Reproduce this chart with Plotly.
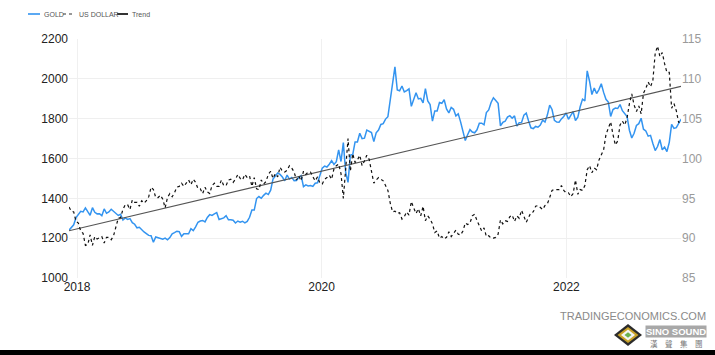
import pandas as pd
import plotly.graph_objects as go

# Weekly closes, Dec 2017 .. Dec 2022
gold = [
    1240, 1255, 1267, 1303,                       # 2017-12
    1320, 1335, 1332, 1352,                       # 2018-01
    1333, 1315, 1353, 1330,
    1322, 1323, 1313, 1347, 1325,
    1332, 1345, 1336, 1323,
    1314, 1320, 1291, 1302,
    1294, 1298, 1278, 1270, 1252,
    1255, 1241, 1231, 1223,
    1214, 1212, 1180, 1206, 1201,
    1198, 1195, 1200, 1192,
    1203, 1222, 1228, 1235,
    1233, 1209, 1222, 1223, 1222,
    1248, 1238, 1257, 1280,
    1286, 1289, 1282, 1304,                       # 2019-01
    1318, 1314, 1322, 1328,
    1294, 1299, 1302, 1313, 1292,
    1292, 1290, 1276, 1286,
    1280, 1285, 1277, 1284, 1305,
    1341, 1341, 1399, 1409,
    1400, 1415, 1426, 1419,
    1441, 1497, 1513, 1527, 1520,
    1507, 1488, 1517, 1497,
    1505, 1489, 1490, 1505,
    1514, 1459, 1468, 1462, 1464,
    1460, 1476, 1478, 1511,
    1552, 1562, 1557, 1571, 1589,                 # 2020-01
    1570, 1584, 1643, 1585,
    1680, 1530, 1480, 1617,
    1620, 1683, 1683, 1727,
    1700, 1702, 1743, 1735, 1730,
    1685, 1729, 1743, 1771,
    1775, 1798, 1810, 1902, 1975,
    2060, 1944, 1940, 1964,
    1934, 1941, 1950, 1862,
    1900, 1930, 1899, 1902, 1879,
    1951, 1889, 1871, 1788,
    1839, 1839, 1881, 1877,
    1895, 1849, 1829, 1856, 1847,                 # 2021-01
    1814, 1824, 1784, 1734,
    1690, 1719, 1745, 1733,
    1729, 1744, 1777, 1777, 1769,
    1831, 1844, 1881, 1905,
    1891, 1877, 1764, 1781,
    1787, 1808, 1815, 1802, 1814,
    1763, 1780, 1781, 1818,
    1828, 1788, 1754, 1750,
    1761, 1757, 1768, 1792, 1783,
    1818, 1868, 1846, 1792,
    1783, 1782, 1799, 1811, 1829,
    1797, 1817, 1835, 1791,                       # 2022-01
    1807, 1860, 1898, 1889,
    2040, 1988, 1921, 1954,
    1926, 1946, 1975, 1932, 1897,
    1883, 1811, 1846, 1853,
    1851, 1871, 1840, 1827,
    1811, 1742, 1703, 1727, 1766,
    1775, 1802, 1747, 1738,
    1712, 1716, 1675, 1640, 1660,
    1695, 1644, 1657, 1635,
    1681, 1771, 1751, 1755,
    1780, 1797,
]

usd = [
    93.9, 93.4, 93.3, 92.1,                       # 2017-12
    91.9, 90.9, 90.6, 89.1,                       # 2018-01
    89.2, 90.4, 89.1, 90.2,
    89.9, 90.1, 90.2, 89.4, 90.1,
    90.1, 89.8, 90.3, 91.6,
    92.5, 92.6, 93.6, 94.2,
    94.2, 93.6, 94.8, 94.5, 94.5,
    94.0, 94.7, 94.4, 94.7,
    95.2, 96.4, 96.1, 95.1, 95.1,
    95.4, 94.9, 93.8, 95.1,
    95.6, 95.2, 95.7, 96.4,
    96.5, 96.9, 96.5, 96.9, 97.3,
    96.7, 97.4, 97.0, 96.2,
    96.2, 95.6, 96.4, 95.8,                       # 2019-01
    95.6, 96.6, 96.9, 96.5,
    96.5, 97.3, 96.6, 96.6, 97.3,
    97.4, 97.0, 97.4, 98.0,
    97.5, 97.3, 98.0, 97.6, 97.8,
    96.5, 97.6, 96.2, 96.1,
    97.3, 96.8, 97.1, 98.0,
    98.4, 97.5, 98.1, 97.7, 98.9,
    98.4, 98.3, 98.5, 99.1,
    98.8, 98.3, 97.3, 97.8,
    97.2, 98.4, 98.0, 98.3, 98.3,
    97.7, 97.2, 97.7, 96.9,
    96.8, 97.4, 97.6, 97.9, 97.4,                 # 2020-01
    98.7, 99.1, 99.3, 98.1,
    95.0, 98.7, 102.5, 98.4,
    100.6, 99.5, 99.8, 100.4,
    99.1, 99.7, 100.4, 99.9, 98.3,
    96.9, 97.3, 97.6, 97.4,
    97.2, 96.6, 96.0, 94.4, 93.3,
    93.4, 93.1, 93.2, 92.4,
    92.7, 93.3, 92.9, 94.6,
    93.8, 93.1, 93.7, 92.8, 94.0,
    92.2, 92.8, 92.4, 91.8,
    90.7, 90.9, 90.0, 90.2,
    89.9, 90.1, 90.8, 90.2, 90.6,                 # 2021-01
    91.0, 90.5, 90.4, 90.9,
    91.9, 91.7, 91.9, 92.8,
    93.0, 92.2, 91.6, 90.9, 91.3,
    90.2, 90.3, 90.0, 90.0,
    90.1, 90.5, 92.3, 91.8,
    92.2, 92.1, 92.7, 92.9, 92.1,
    92.8, 92.5, 93.5, 92.7,
    92.0, 92.6, 93.2, 93.3,
    94.0, 94.1, 93.9, 93.6, 94.1,
    94.3, 95.1, 96.0, 96.1,
    96.1, 96.1, 96.6, 96.0, 95.7,
    95.7, 95.2, 95.6, 97.3,                       # 2022-01
    95.5, 96.1, 96.0, 96.6,
    98.6, 99.1, 98.2, 98.8,
    98.6, 99.8, 100.5, 101.1, 103.0,
    103.7, 104.6, 103.0, 101.7,
    102.2, 104.2, 104.7, 104.2,
    105.1, 106.9, 108.1, 106.7, 105.9,
    106.6, 105.6, 108.2, 108.8,
    109.6, 109.0, 109.8, 113.2, 114.1,
    112.8, 113.3, 111.9, 110.8,
    110.8, 106.3, 106.9, 106.0,
    104.5, 104.9,
]

trend = [1237, 1962]

dates = pd.date_range("2017-12-08", periods=len(gold), freq="W-FRI")
assert len(gold) == len(usd), (len(gold), len(usd))
trend_dates = [dates[0], dates[-1]]

W, H = 715, 355
L, R, T, B = 69, 34, 39, 77
PW, PH = W - L - R, H - T - B


def px(x):
    return (x - L) / PW


def py(y):
    return (H - B - y) / PH


fig = go.Figure()
fig.add_trace(go.Scatter(x=dates, y=gold, name="GOLD", mode="lines",
                         line=dict(color="#3394f0", width=1.5), yaxis="y"))
fig.add_trace(go.Scatter(x=trend_dates, y=trend, name="Trend", mode="lines",
                         line=dict(color="#555555", width=1.1), yaxis="y"))
fig.add_trace(go.Scatter(x=dates, y=usd, name="US DOLLAR", mode="lines",
                         line=dict(color="#111111", width=1.2, dash="dot"), yaxis="y2"))

font = "Liberation Sans, Arial, sans-serif"
fig.update_layout(
    width=W, height=H,
    margin=dict(l=L, r=R, t=T, b=B),
    paper_bgcolor="white", plot_bgcolor="white",
    showlegend=False,
    font=dict(family=font, size=12, color="#222"),
    xaxis=dict(range=[dates[0], dates[-1]], tick0="2018-01-01", dtick="M24",
               tickformat="%Y", showgrid=True, gridcolor="#f0f0f0", gridwidth=1,
               zeroline=False, showline=False, ticks="",
               tickfont=dict(size=12, color="#222")),
    yaxis=dict(range=[1000, 2200], dtick=200, showgrid=True, gridcolor="#efefef",
               zeroline=False, showline=False, ticks="",
               tickfont=dict(size=12, color="#222")),
    yaxis2=dict(range=[85, 115], dtick=5, overlaying="y", side="right",
                showgrid=False, zeroline=False, showline=False, ticks="",
                tickfont=dict(size=12, color="#9a9a9a")),
)

# Custom compact legend
leg_y = py(14)
items = [(28, 40, "#3394f0", "solid", 1.6, 42, "GOLD"),
         (63, 75, "#333333", "dot", 1.2, 77, "US DOLLAR"),
         (117, 128, "#333333", "solid", 2.0, 130, "Trend")]
for x0, x1, col, dash, wd, tx, label in items:
    fig.add_shape(type="line", xref="paper", yref="paper",
                  x0=px(x0), x1=px(x1), y0=leg_y, y1=leg_y,
                  line=dict(color=col, width=wd, dash=dash))
    fig.add_annotation(xref="paper", yref="paper", x=px(tx), y=leg_y,
                       text=label, showarrow=False, xanchor="left", yanchor="middle",
                       font=dict(size=7, color="#555", family=font))

# Watermark
fig.add_annotation(xref="paper", yref="paper", x=px(558), y=py(316),
                   text="TRADINGECONOMICS.COM", showarrow=False,
                   xanchor="left", yanchor="middle",
                   font=dict(size=11, color="#8a8a8a", family=font))

# Logo (diamond)
cx, cy = 628, 335
def diamond(rx, ry):
    return (f"M {px(cx)} {py(cy - ry)} L {px(cx + rx)} {py(cy)} "
            f"L {px(cx)} {py(cy + ry)} L {px(cx - rx)} {py(cy)} Z")
fig.add_shape(type="path", xref="paper", yref="paper", path=diamond(14, 11),
              fillcolor="#2b2b2b", line=dict(width=0))
fig.add_shape(type="path", xref="paper", yref="paper", path=diamond(10.5, 8),
              fillcolor="#c9a227", line=dict(width=0))
fig.add_shape(type="path", xref="paper", yref="paper", path=diamond(7, 5.5),
              fillcolor="#f4f4f4", line=dict(width=0))
fig.add_shape(type="path", xref="paper", yref="paper", path=diamond(3.5, 2.8),
              fillcolor="#6ab04c", line=dict(width=0))
fig.add_annotation(xref="paper", yref="paper", x=px(676), y=py(331),
                   text="<b>SINO SOUND</b>", showarrow=False,
                   xanchor="center", yanchor="middle",
                   font=dict(size=9.5, color="#ffffff", family=font),
                   bgcolor="rgba(110,110,110,0.6)", borderpad=0)
fig.add_annotation(xref="paper", yref="paper", x=px(676), y=py(343),
                   text="漢　聲　集　團", showarrow=False,
                   xanchor="center", yanchor="middle",
                   font=dict(size=7.5, color="#777777", family="Noto Sans CJK TC"))

# Bottom black strip
fig.add_shape(type="rect", xref="paper", yref="paper",
              x0=px(0), x1=px(W), y0=py(H), y1=py(350),
              fillcolor="#000000", line=dict(width=0), layer="above")

fig.write_html("out.html")
